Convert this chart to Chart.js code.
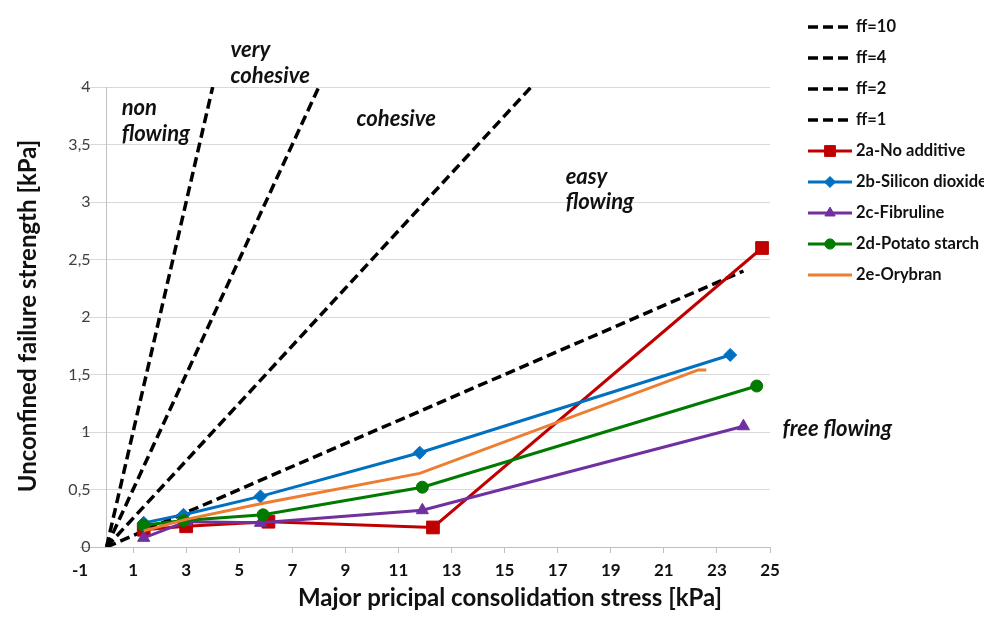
<!DOCTYPE html>
<html>
<head>
<meta charset="utf-8">
<script src="https://cdn.jsdelivr.net/npm/chart.js@4.4.1/dist/chart.umd.min.js"></script>
<style>
  html, body { margin: 0; padding: 0; background: #fff; }
  #wrap { width: 984px; height: 623px; }
</style>
</head>
<body>
<div id="wrap"><canvas id="flowChart" width="984" height="623"></canvas></div>
<script>
// flow function lines (ff = sigma1 / sigma_c), each one starts at the origin
const ffLabels = ["ff=10", "ff=4", "ff=2", "ff=1"];
const ffEndX = [24, 16, 8, 4];
const ffEndY = [2.4, 4, 4, 4];

// measured flow functions
const seriesLabels = ["2a-No additive", "2b-Silicon dioxide", "2c-Fibruline", "2d-Potato starch", "2e-Orybran"];
const noAdditiveX = [1.4, 3.0, 6.1, 12.3, 24.7];
const noAdditiveY = [0.15, 0.18, 0.22, 0.17, 2.6];
const siliconX = [1.4, 2.9, 5.8, 11.8, 23.5];
const siliconY = [0.21, 0.28, 0.44, 0.82, 1.67];
const fibrulineX = [1.4, 3.0, 5.8, 11.9, 24.0];
const fibrulineY = [0.08, 0.22, 0.21, 0.32, 1.05];
const potatoX = [1.4, 2.9, 5.9, 11.9, 24.5];
const potatoY = [0.19, 0.23, 0.28, 0.52, 1.40];
const orybranX = [1.4, 3.0, 5.9, 11.8, 22.3, 22.6];
const orybranY = [0.14, 0.24, 0.38, 0.64, 1.54, 1.54];

// region names inside the plot
const regionText = [
  { text: "non", x: 0.57, y: 3.82 },
  { text: "flowing", x: 0.57, y: 3.59 },
  { text: "very", x: 4.67, y: 4.32 },
  { text: "cohesive", x: 4.67, y: 4.10 },
  { text: "cohesive", x: 9.42, y: 3.72 },
  { text: "easy", x: 17.3, y: 3.22 },
  { text: "flowing", x: 17.3, y: 3.0 },
  { text: "free flowing", x: 25.47, y: 1.03 },
];

const FONT = "Lato, 'Open Sans', sans-serif";
Chart.defaults.font.family = FONT;

function toPoints(xs, ys) {
  return xs.map((x, i) => ({ x: x, y: ys[i] }));
}

const datasets = [];

ffLabels.forEach((label, i) => {
  datasets.push({
    label: label,
    data: [{ x: 0, y: 0 }, { x: ffEndX[i], y: ffEndY[i] }],
    borderColor: "#000000",
    backgroundColor: "#000000",
    borderWidth: 3.5,
    borderDash: [10, 5],
    pointRadius: 0,
  });
});

const seriesStyle = [
  { color: "#C00000", pointStyle: "rect", radius: 9, xs: noAdditiveX, ys: noAdditiveY },
  { color: "#0070C0", pointStyle: "rectRot", radius: 6.5, xs: siliconX, ys: siliconY },
  { color: "#7030A0", pointStyle: "triangle", radius: 7, xs: fibrulineX, ys: fibrulineY },
  { color: "#007A00", pointStyle: "circle", radius: 6, xs: potatoX, ys: potatoY },
  { color: "#ED7D31", pointStyle: false, radius: 0, xs: orybranX, ys: orybranY },
];

seriesLabels.forEach((label, i) => {
  const s = seriesStyle[i];
  datasets.push({
    label: label,
    data: toPoints(s.xs, s.ys),
    borderColor: s.color,
    backgroundColor: s.color,
    borderWidth: 3,
    pointStyle: s.pointStyle || "circle",
    pointRadius: s.radius,
    pointBorderWidth: 1,
  });
});

// later series sit on top, like the spreadsheet draws them
datasets.forEach((d, i) => {
  d.showLine = true;
  d.order = datasets.length - i;
  d.borderCapStyle = "butt";
});

function drawMarker(ctx, ds, x, y) {
  if (!ds.pointRadius) return;
  ctx.save();
  ctx.fillStyle = ds.backgroundColor;
  ctx.strokeStyle = ds.borderColor;
  ctx.lineWidth = 1;
  ctx.setLineDash([]);
  if (Chart.helpers && Chart.helpers.drawPoint) {
    Chart.helpers.drawPoint(ctx, {
      pointStyle: ds.pointStyle,
      radius: ds.pointRadius * 0.85,
      rotation: 0,
      borderWidth: 1,
    }, x, y);
  } else {
    ctx.beginPath();
    ctx.arc(x, y, ds.pointRadius * 0.7, 0, Math.PI * 2);
    ctx.fill();
  }
  ctx.restore();
}

const decorations = {
  id: "decorations",
  afterDraw(chart) {
    const ctx = chart.ctx;
    const xs = chart.scales.x;
    const ys = chart.scales.y;

    // region names
    ctx.save();
    ctx.font = "italic bold 22px " + FONT;
    ctx.fillStyle = "#111111";
    ctx.textAlign = "left";
    ctx.textBaseline = "middle";
    regionText.forEach((t) => {
      ctx.fillText(t.text, xs.getPixelForValue(t.x), ys.getPixelForValue(t.y));
    });
    ctx.restore();

    // axis titles
    ctx.save();
    ctx.font = "bold 24px " + FONT;
    ctx.fillStyle = "#111111";
    ctx.textAlign = "center";
    ctx.textBaseline = "middle";
    ctx.fillText("Major pricipal consolidation stress [kPa]", 510, 598);
    ctx.translate(28, 316);
    ctx.rotate(-Math.PI / 2);
    ctx.fillText("Unconfined failure strength [kPa]", 0, 0);
    ctx.restore();

    // legend on the right: line sample, marker in the middle, label
    ctx.save();
    chart.data.datasets.forEach((ds, i) => {
      const y = 27 + i * 31;
      ctx.strokeStyle = ds.borderColor;
      ctx.lineWidth = ds.borderWidth;
      ctx.setLineDash(ds.borderDash || []);
      ctx.beginPath();
      ctx.moveTo(808, y);
      ctx.lineTo(852, y);
      ctx.stroke();
      drawMarker(ctx, ds, 830, y);
      ctx.setLineDash([]);
      ctx.font = "bold 16.5px " + FONT;
      ctx.fillStyle = "#111111";
      ctx.textAlign = "left";
      ctx.textBaseline = "middle";
      ctx.fillText(ds.label, 856, y);
    });
    ctx.restore();
  },
};

new Chart(document.getElementById("flowChart"), {
  type: "scatter",
  data: { datasets: datasets },
  options: {
    responsive: false,
    animation: false,
    layout: { padding: { left: 80, top: 87, right: 214, bottom: 0 } },
    plugins: {
      legend: { display: false },
      tooltip: { enabled: false },
    },
    scales: {
      x: {
        type: "linear",
        min: -1,
        max: 25,
        ticks: {
          stepSize: 2,
          color: "#111111",
          font: { size: 17, weight: "bold" },
          padding: 7,
          maxRotation: 0,
        },
        grid: {
          drawOnChartArea: false,
          tickLength: 6,
          color: (ctx) => (ctx.tick && ctx.tick.value === -1 ? "rgba(0,0,0,0)" : "#BFBFBF"),
        },
        border: { color: "#BFBFBF" },
        afterFit: (scale) => { scale.height = 76; },
      },
      y: {
        type: "linear",
        min: 0,
        max: 4,
        position: { x: 0 },
        ticks: {
          stepSize: 0.5,
          color: "#404040",
          font: { size: 16 },
          // labels sit left of the axis line at x = 0, keep a gap to it
          callback: (v) => String(v).replace(".", ",") + "\u2003\u2005",
        },
        grid: { color: "#D9D9D9", drawTicks: false },
        border: { color: "#BFBFBF" },
      },
    },
  },
  plugins: [decorations],
});
</script>
</body>
</html>
